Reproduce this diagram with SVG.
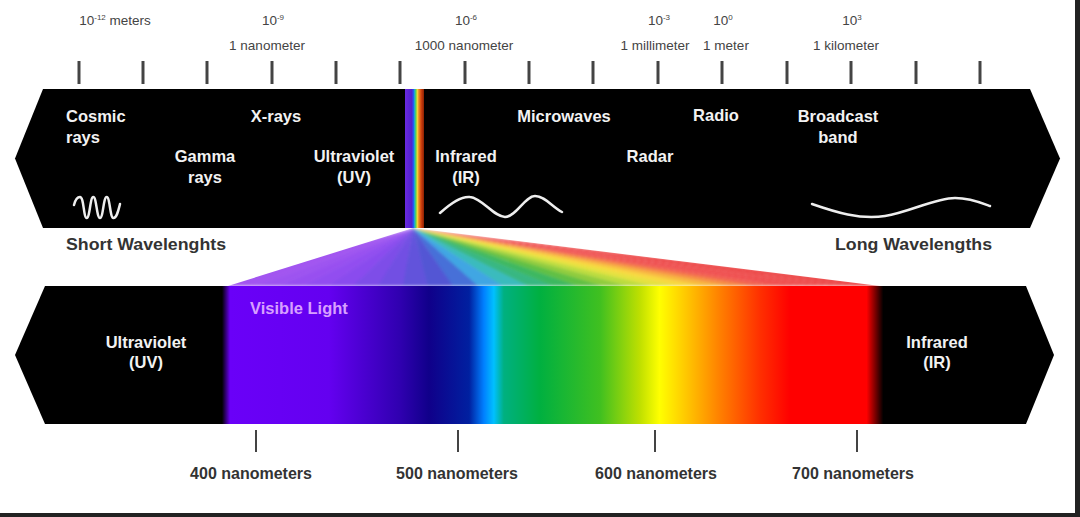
<svg xmlns="http://www.w3.org/2000/svg" width="1080" height="517" viewBox="0 0 1080 517">
<defs>
<style>
.sm{font-family:"Liberation Sans",Arial,sans-serif;font-size:13.5px;fill:#444;text-anchor:middle}
.sup{font-size:8px}
.lbl{font-family:"Liberation Sans",Arial,sans-serif;font-size:16.5px;font-weight:bold;fill:#f2f2f2;text-anchor:middle}
.dk{font-family:"Liberation Sans",Arial,sans-serif;font-size:16px;font-weight:bold;fill:#333}
.nm{font-family:"Liberation Sans",Arial,sans-serif;font-size:16px;font-weight:bold;fill:#333;text-anchor:middle}
.tick{stroke:#444;stroke-width:3}
.btick{stroke:#444;stroke-width:2}
.wave{fill:none;stroke:#eee;stroke-width:2.5;stroke-linecap:round}
</style>
<linearGradient id="stripe" x1="0" y1="0" x2="1" y2="0">
<stop offset="0" stop-color="#6a2ae0"/>
<stop offset="0.35" stop-color="#5020d0"/>
<stop offset="0.45" stop-color="#2060f0"/>
<stop offset="0.52" stop-color="#20c0c0"/>
<stop offset="0.58" stop-color="#60d040"/>
<stop offset="0.64" stop-color="#f0e040"/>
<stop offset="0.72" stop-color="#f09020"/>
<stop offset="0.85" stop-color="#d04010"/>
<stop offset="1" stop-color="#8a2000"/>
</linearGradient>
<linearGradient id="spec" gradientUnits="userSpaceOnUse" x1="222" y1="0" x2="890" y2="0">
<stop offset="0" stop-color="#000"/>
<stop offset="0.012" stop-color="#6a00f8"/>
<stop offset="0.16" stop-color="#6400f0"/>
<stop offset="0.266" stop-color="#3000b0"/>
<stop offset="0.31" stop-color="#10008a"/>
<stop offset="0.37" stop-color="#0020a0"/>
<stop offset="0.392" stop-color="#0080ff"/>
<stop offset="0.407" stop-color="#00c0ff"/>
<stop offset="0.422" stop-color="#00b080"/>
<stop offset="0.476" stop-color="#00b040"/>
<stop offset="0.566" stop-color="#40c020"/>
<stop offset="0.626" stop-color="#c0e000"/>
<stop offset="0.655" stop-color="#ffff00"/>
<stop offset="0.7" stop-color="#ffc000"/>
<stop offset="0.745" stop-color="#ff8000"/>
<stop offset="0.805" stop-color="#ff3000"/>
<stop offset="0.85" stop-color="#ff0000"/>
<stop offset="0.965" stop-color="#ff0000"/>
<stop offset="0.99" stop-color="#000"/>
</linearGradient>
<filter id="soft" x="-5%" y="-20%" width="110%" height="140%"><feGaussianBlur stdDeviation="1.5"/></filter>
<clipPath id="fanclip"><polygon points="413,228 228,286 880,286"/></clipPath>
</defs>
<rect width="1080" height="517" fill="#fff"/>

<g id="scale-top">
<text class="sm" x="115" y="25">10<tspan class="sup" dy="-5">-12</tspan><tspan dy="5"> meters</tspan></text>
<text class="sm" x="273" y="25">10<tspan class="sup" dy="-5">-9</tspan></text>
<text class="sm" x="267" y="50">1 nanometer</text>
<text class="sm" x="466" y="25">10<tspan class="sup" dy="-5">-6</tspan></text>
<text class="sm" x="464" y="50">1000 nanometer</text>
<text class="sm" x="659" y="25">10<tspan class="sup" dy="-5">-3</tspan></text>
<text class="sm" x="655" y="50">1 millimeter</text>
<text class="sm" x="723" y="25">10<tspan class="sup" dy="-5">0</tspan></text>
<text class="sm" x="726" y="50">1 meter</text>
<text class="sm" x="852" y="25">10<tspan class="sup" dy="-5">3</tspan></text>
<text class="sm" x="846" y="50">1 kilometer</text>
<g class="tick">
<line x1="79" y1="61" x2="79" y2="84"/><line x1="143" y1="61" x2="143" y2="84"/><line x1="207" y1="61" x2="207" y2="84"/><line x1="272" y1="61" x2="272" y2="84"/><line x1="336" y1="61" x2="336" y2="84"/><line x1="400" y1="61" x2="400" y2="84"/><line x1="465" y1="61" x2="465" y2="84"/><line x1="529" y1="61" x2="529" y2="84"/><line x1="593" y1="61" x2="593" y2="84"/><line x1="658" y1="61" x2="658" y2="84"/><line x1="722" y1="61" x2="722" y2="84"/><line x1="787" y1="61" x2="787" y2="84"/><line x1="851" y1="61" x2="851" y2="84"/><line x1="916" y1="61" x2="916" y2="84"/><line x1="980" y1="61" x2="980" y2="84"/>
</g>
</g>

<g id="band-top">
<polygon points="43,89 1030,89 1060,158.5 1030,228 43,228 15,158.5" fill="#000"/>
<rect x="405" y="89" width="19" height="139" fill="url(#stripe)"/>
<text class="lbl" x="66" y="122" style="text-anchor:start">Cosmic</text>
<text class="lbl" x="66" y="143" style="text-anchor:start">rays</text>
<text class="lbl" x="276" y="122">X-rays</text>
<text class="lbl" x="205" y="162">Gamma</text>
<text class="lbl" x="205" y="183">rays</text>
<text class="lbl" x="354" y="162">Ultraviolet</text>
<text class="lbl" x="354" y="183">(UV)</text>
<text class="lbl" x="466" y="162">Infrared</text>
<text class="lbl" x="466" y="183">(IR)</text>
<text class="lbl" x="564" y="122">Microwaves</text>
<text class="lbl" x="716" y="121">Radio</text>
<text class="lbl" x="650" y="162">Radar</text>
<text class="lbl" x="838" y="122">Broadcast</text>
<text class="lbl" x="838" y="143">band</text>
<path class="wave" d="M74,205 C75.5,199 77.5,197 80,197 C84,197 83.5,218 86.7,218 C90,218 90,197 93.3,197 C96.6,197 96.6,218 100,218 C103.3,218 103.3,197 106.7,197 C110,197 110,218 113.3,218 C116.6,218 118,212 120,204"/>
<path class="wave" d="M440,213 C452,202 462,196 470,197 C482,198 494,217 505,217 C516,217 525,196 535,196 C545,196 552,207 562,212"/>
<path class="wave" d="M812,204 C835,212 860,220 885,216 C910,212 935,198 955,198 C970,198 982,203 990,206"/>
</g>

<g id="fan" clip-path="url(#fanclip)">
<g filter="url(#soft)">
<polygon points="413,228 200,286 254,286" fill="#a255f0"/>
<polygon points="413,228 253,286 279,286" fill="#9d52f0"/>
<polygon points="413,228 278,286 304,286" fill="#984ff0"/>
<polygon points="413,228 303,286 329,286" fill="#924df0"/>
<polygon points="413,228 328,286 354,286" fill="#8a4cee"/>
<polygon points="413,228 353,286 379,286" fill="#7e4de8"/>
<polygon points="413,228 378,286 404,286" fill="#724fe3"/>
<polygon points="413,228 403,286 429,286" fill="#6252db"/>
<polygon points="413,228 428,286 454,286" fill="#5357d4"/>
<polygon points="413,228 453,286 479,286" fill="#4670d8"/>
<polygon points="413,228 478,286 504,286" fill="#3fa6e3"/>
<polygon points="413,228 503,286 529,286" fill="#3bbbbd"/>
<polygon points="413,228 528,286 554,286" fill="#38b782"/>
<polygon points="413,228 553,286 579,286" fill="#3cb860"/>
<polygon points="413,228 578,286 604,286" fill="#60c045"/>
<polygon points="413,228 603,286 629,286" fill="#90cc3c"/>
<polygon points="413,228 628,286 654,286" fill="#bcdc3c"/>
<polygon points="413,228 653,286 679,286" fill="#e4e23c"/>
<polygon points="413,228 678,286 704,286" fill="#f8d83c"/>
<polygon points="413,228 703,286 729,286" fill="#f8b83c"/>
<polygon points="413,228 728,286 754,286" fill="#f68e42"/>
<polygon points="413,228 753,286 779,286" fill="#f2624c"/>
<polygon points="413,228 778,286 804,286" fill="#f05050"/>
<polygon points="413,228 803,286 829,286" fill="#ef4e4e"/>
<polygon points="413,228 828,286 854,286" fill="#ee4c4c"/>
<polygon points="413,228 853,286 900,286" fill="#ec4a4a"/>
</g>
</g>

<g id="captions">
<text class="dk" x="66" y="250" textLength="160" lengthAdjust="spacingAndGlyphs">Short Wavelenghts</text>
<text class="dk" x="835" y="250" textLength="157" lengthAdjust="spacingAndGlyphs">Long Wavelengths</text>
</g>

<g id="band-bottom">
<polygon points="45,286 1026,286 1054,355 1026,424 45,424 15,355" fill="#000"/>
<rect x="222" y="286" width="668" height="138" fill="url(#spec)"/>
<text class="lbl" x="146" y="348">Ultraviolet</text>
<text class="lbl" x="146" y="368">(UV)</text>
<text class="lbl" x="937" y="348">Infrared</text>
<text class="lbl" x="937" y="368">(IR)</text>
<text class="lbl" x="250" y="314" style="text-anchor:start;fill:#d8a0ff">Visible Light</text>
</g>

<g id="scale-bottom">
<g class="btick">
<line x1="256" y1="430" x2="256" y2="452"/><line x1="458" y1="430" x2="458" y2="452"/><line x1="655" y1="430" x2="655" y2="452"/><line x1="857" y1="430" x2="857" y2="452"/>
</g>
<text class="nm" x="251" y="479">400 nanometers</text>
<text class="nm" x="457" y="479">500 nanometers</text>
<text class="nm" x="656" y="479">600 nanometers</text>
<text class="nm" x="853" y="479">700 nanometers</text>
</g>

<g id="frame">
<rect x="1075" y="0" width="5" height="517" fill="#222"/>
<rect x="0" y="513" width="1080" height="4" fill="#222"/>
</g>
</svg>
